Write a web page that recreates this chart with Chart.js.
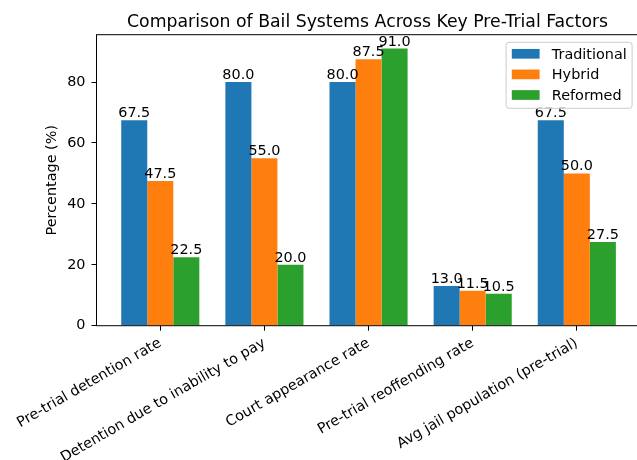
<!DOCTYPE html>
<html>
<head>
<meta charset="utf-8">
<script src="https://cdn.jsdelivr.net/npm/chart.js@4.4.1/dist/chart.umd.min.js"></script>
<style>
html, body { margin: 0; padding: 0; overflow: hidden; background: #fff; }
canvas { display: block; }
</style>
</head>
<body>
<canvas id="chart" width="645" height="460"></canvas>
<script>
var chartTitle = 'Comparison of Bail Systems Across Key Pre-Trial Factors';
var categories = [
    'Pre-trial detention rate',
    'Detention due to inability to pay',
    'Court appearance rate',
    'Pre-trial reoffending rate',
    'Avg jail population (pre-trial)'
];
var seriesNames = ['Traditional', 'Hybrid', 'Reformed'];
var traditional = [67.5, 80.0, 80.0, 13.0, 67.5];
var hybrid = [47.5, 55.0, 87.5, 11.5, 50.0];
var reformed = [22.5, 20.0, 91.0, 10.5, 27.5];
var yTicks = [0, 20, 40, 60, 80];
var colors = ['#1f77b4', '#ff7f0e', '#2ca02c'];

var fontFamily = '"DejaVu Sans", sans-serif';
var fontSize = 14.4;

function points(values) {
    return values.map((v, i) => ({x: i, y: v}));
}

// matplotlib look: spines, bar labels, title and legend
var mplPlugin = {
    id: 'mpl',
    afterDatasetsDraw: function(chart) {
        let ctx = chart.ctx;
        let a = chart.chartArea;
        ctx.save();
        ctx.font = fontSize + 'px ' + fontFamily;
        ctx.fillStyle = '#000';
        ctx.textAlign = 'center';
        ctx.textBaseline = 'bottom';
        chart.data.datasets.forEach((ds, i) => {
            chart.getDatasetMeta(i).data.forEach((bar, j) => {
                ctx.fillText(ds.data[j].y.toFixed(1), bar.x, bar.y + 0.5);
            });
        });
        ctx.strokeStyle = '#000';
        ctx.lineWidth = 1;
        ctx.strokeRect(a.left, a.top, a.right - a.left, a.bottom - a.top);
        ctx.restore();
    },
    afterDraw: function(chart) {
        let ctx = chart.ctx;
        let a = chart.chartArea;
        ctx.save();

        // title
        ctx.font = '17.3px ' + fontFamily;
        ctx.fillStyle = '#000';
        ctx.textAlign = 'center';
        ctx.textBaseline = 'alphabetic';
        ctx.fillText(chartTitle, (a.left + a.right) / 2 - 1, 26.7);

        // legend
        let w = 126, h = 66;
        let x = a.right - 8.5 - w;
        let y = a.top + 7.6;
        ctx.beginPath();
        if (ctx.roundRect) ctx.roundRect(x, y, w, h, 3);
        else ctx.rect(x, y, w, h);
        ctx.fillStyle = 'rgba(255,255,255,0.8)';
        ctx.fill();
        ctx.strokeStyle = '#cccccc';
        ctx.lineWidth = 1;
        ctx.stroke();

        ctx.font = fontSize + 'px ' + fontFamily;
        ctx.textAlign = 'left';
        chart.data.datasets.forEach((ds, i) => {
            let rowY = y + 11.5 + i * 20.6;
            ctx.fillStyle = ds.backgroundColor;
            ctx.fillRect(x + 5.7, rowY - 4.85, 27.8, 9.7);
            ctx.fillStyle = '#000';
            ctx.fillText(ds.label, x + 45.7, rowY + 5);
        });
        ctx.restore();
    }
};

var ctx = document.getElementById('chart').getContext('2d');

new Chart(ctx, {
    type: 'bar',
    data: {
        datasets: [
            {label: seriesNames[0], data: points(traditional), backgroundColor: colors[0]},
            {label: seriesNames[1], data: points(hybrid), backgroundColor: colors[1]},
            {label: seriesNames[2], data: points(reformed), backgroundColor: colors[2]}
        ]
    },
    options: {
        responsive: false,
        animation: false,
        categoryPercentage: 0.75,
        barPercentage: 1.0,
        borderWidth: 0,
        layout: {
            autoPadding: false,
            padding: {left: 40, top: 34.7, right: 4.4, bottom: 0}
        },
        plugins: {
            legend: {display: false},
            title: {display: false},
            tooltip: {enabled: false}
        },
        scales: {
            x: {
                type: 'linear',
                offset: false,
                min: -0.6125,
                max: 4.6125,
                grid: {
                    display: true,
                    offset: false,
                    drawOnChartArea: false,
                    drawTicks: true,
                    tickLength: 5,
                    color: '#000'
                },
                border: {display: false},
                ticks: {
                    autoSkip: false,
                    minRotation: 30,
                    maxRotation: 30,
                    padding: 4,
                    color: '#000',
                    font: {family: fontFamily, size: fontSize},
                    callback: function(value) {
                        return categories[value] !== undefined ? categories[value] : '';
                    }
                },
                afterBuildTicks: function(scale) {
                    scale.ticks = categories.map((c, i) => ({value: i}));
                },
                afterFit: function(scale) {
                    scale.height = 134.3;
                    scale.paddingLeft = 0;
                    scale.paddingRight = 0;
                }
            },
            y: {
                min: 0,
                max: 95.55,
                grid: {
                    display: true,
                    drawOnChartArea: false,
                    drawTicks: true,
                    tickLength: 5,
                    color: '#000'
                },
                border: {display: false},
                title: {
                    display: true,
                    text: 'Percentage (%)',
                    color: '#000',
                    font: {family: fontFamily, size: fontSize},
                    padding: {top: 4, bottom: 4}
                },
                ticks: {
                    padding: 6,
                    color: '#000',
                    font: {family: fontFamily, size: fontSize}
                },
                afterBuildTicks: function(scale) {
                    scale.ticks = yTicks.map(v => ({value: v}));
                },
                afterFit: function(scale) {
                    scale.width = 56.5;
                    scale.paddingTop = 0;
                    scale.paddingBottom = 0;
                }
            }
        }
    },
    plugins: [mplPlugin]
});
</script>
</body>
</html>
